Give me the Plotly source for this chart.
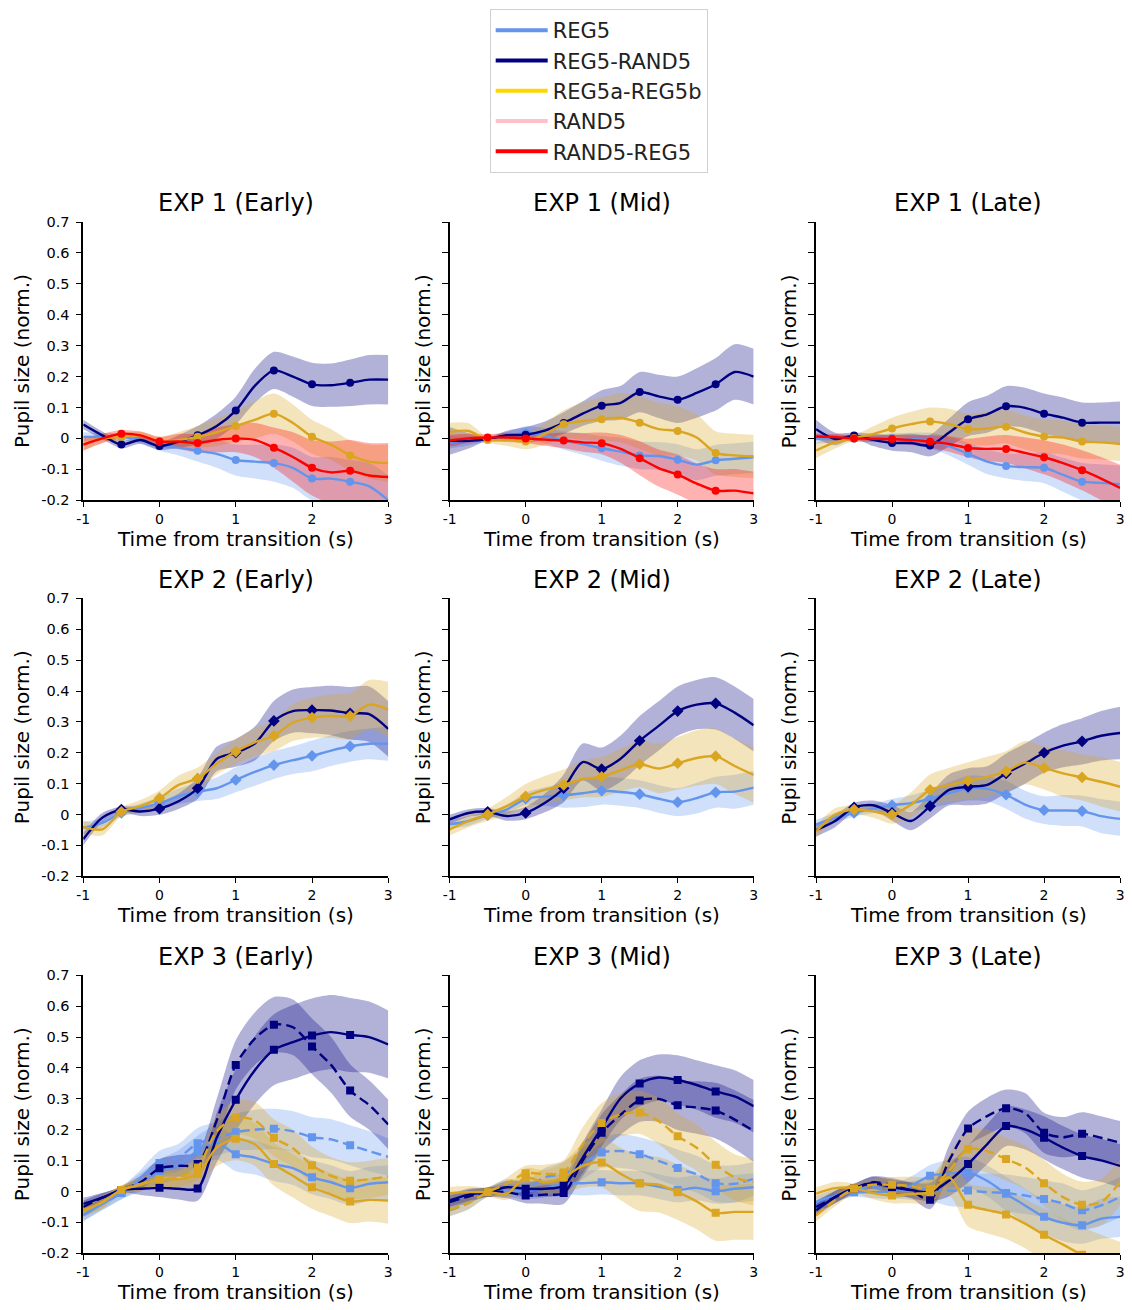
import plotly.graph_objects as go

# ---------------- data ----------------
T = [-1, -0.75, -0.5, -0.25, 0, 0.25, 0.5, 0.75, 1, 1.25, 1.5, 1.75, 2, 2.25, 2.5, 2.75, 3]
MARKER_IDX = [2, 4, 6, 8, 10, 12, 14]
Y_TICKS = [-0.2, -0.1, 0, 0.1, 0.2, 0.3, 0.4, 0.5, 0.6, 0.7]
Y_TICK_TEXT = ["-0.2", "-0.1", "0", "0.1", "0.2", "0.3", "0.4", "0.5", "0.6", "0.7"]
X_TICKS = [-1, 0, 1, 2, 3]
X_TICK_TEXT = ["-1", "0", "1", "2", "3"]
LEGEND_NAMES = ["REG5", "REG5-RAND5", "REG5a-REG5b", "RAND5", "RAND5-REG5"]
LEGEND_COLORS = ["#6495ED", "#000080", "#FFD700", "#FFC0CB", "#FF0000"]
PANEL_TITLES = ["EXP 1 (Early)", "EXP 1 (Mid)", "EXP 1 (Late)",
                "EXP 2 (Early)", "EXP 2 (Mid)", "EXP 2 (Late)",
                "EXP 3 (Early)", "EXP 3 (Mid)", "EXP 3 (Late)"]

# EXP 1 Early
E1E_REG5 = [0.005, 0.005, 0.005, -0.005, -0.025, -0.03, -0.04, -0.05, -0.07, -0.075, -0.08, -0.095, -0.13, -0.13, -0.14, -0.155, -0.2]
E1E_REG5_ERR = [0.015, 0.012, 0.012, 0.012, 0.015, 0.025, 0.035, 0.045, 0.05, 0.055, 0.06, 0.065, 0.07, 0.07, 0.07, 0.075, 0.08]
E1E_RR = [0.045, 0.01, -0.02, -0.005, -0.025, -0.01, 0.01, 0.04, 0.09, 0.17, 0.22, 0.20, 0.175, 0.172, 0.18, 0.19, 0.19]
E1E_RR_ERR = [0.015, 0.012, 0.012, 0.012, 0.012, 0.02, 0.03, 0.04, 0.045, 0.055, 0.06, 0.065, 0.07, 0.07, 0.075, 0.08, 0.08]
E1E_AB = [-0.02, 0.0, 0.005, 0.01, -0.01, -0.005, 0.005, 0.02, 0.04, 0.06, 0.08, 0.05, 0.005, -0.02, -0.055, -0.075, -0.08]
E1E_AB_ERR = [0.02, 0.015, 0.012, 0.012, 0.015, 0.025, 0.035, 0.045, 0.05, 0.06, 0.065, 0.06, 0.055, 0.05, 0.05, 0.055, 0.06]
E1E_RND = [-0.02, 0.0, 0.015, 0.01, -0.01, -0.01, -0.015, -0.005, 0.0, -0.005, -0.03, -0.06, -0.095, -0.11, -0.105, -0.12, -0.125]
E1E_RND_ERR = [0.02, 0.015, 0.012, 0.012, 0.015, 0.025, 0.03, 0.04, 0.045, 0.055, 0.065, 0.08, 0.09, 0.1, 0.1, 0.105, 0.11]

# EXP 1 Mid
E1M_REG5 = [-0.013, -0.008, -0.002, 0.006, 0.019, 0.009, -0.007, -0.018, -0.032, -0.043, -0.055, -0.057, -0.069, -0.085, -0.071, -0.066, -0.061]
E1M_REG5_ERR = [0.02, 0.015, 0.01, 0.015, 0.02, 0.025, 0.03, 0.035, 0.04, 0.045, 0.045, 0.045, 0.05, 0.05, 0.05, 0.05, 0.05]
E1M_RR = [-0.008, -0.008, -0.002, 0.01, 0.012, 0.025, 0.05, 0.08, 0.106, 0.115, 0.15, 0.136, 0.125, 0.147, 0.175, 0.215, 0.2]
E1M_RR_ERR = [0.045, 0.025, 0.005, 0.015, 0.025, 0.03, 0.035, 0.04, 0.05, 0.055, 0.065, 0.07, 0.075, 0.08, 0.085, 0.09, 0.09]
E1M_AB = [0.021, 0.024, -0.005, -0.004, -0.01, 0.014, 0.046, 0.056, 0.062, 0.067, 0.051, 0.03, 0.024, 0.003, -0.047, -0.055, -0.058]
E1M_AB_ERR = [0.03, 0.025, 0.01, 0.02, 0.025, 0.035, 0.045, 0.06, 0.07, 0.08, 0.085, 0.085, 0.08, 0.075, 0.07, 0.07, 0.07]
E1M_RND = [-0.007, 0.0, 0.003, 0.003, 0.0, -0.004, -0.007, -0.013, -0.016, -0.034, -0.064, -0.096, -0.117, -0.146, -0.169, -0.169, -0.178]
E1M_RND_ERR = [0.02, 0.015, 0.01, 0.015, 0.015, 0.02, 0.025, 0.03, 0.035, 0.045, 0.055, 0.06, 0.065, 0.065, 0.07, 0.07, 0.07]

# EXP 1 Late
E1L_REG5 = [-0.002, -0.001, 0.0, 0.001, 0.001, -0.002, -0.007, -0.025, -0.05, -0.075, -0.089, -0.093, -0.095, -0.118, -0.14, -0.144, -0.148]
E1L_REG5_ERR = [0.015, 0.012, 0.01, 0.012, 0.015, 0.02, 0.025, 0.03, 0.035, 0.04, 0.04, 0.045, 0.05, 0.055, 0.06, 0.06, 0.06]
E1L_RR = [0.03, -0.002, 0.009, -0.005, -0.015, -0.015, -0.023, 0.019, 0.062, 0.078, 0.104, 0.099, 0.08, 0.067, 0.051, 0.051, 0.051]
E1L_RR_ERR = [0.03, 0.02, 0.01, 0.02, 0.025, 0.03, 0.035, 0.045, 0.055, 0.06, 0.065, 0.065, 0.065, 0.065, 0.065, 0.065, 0.068]
E1L_AB = [-0.039, -0.013, 0.001, 0.014, 0.032, 0.046, 0.055, 0.046, 0.03, 0.032, 0.038, 0.019, 0.006, 0.003, -0.01, -0.013, -0.018]
E1L_AB_ERR = [0.025, 0.02, 0.01, 0.025, 0.035, 0.04, 0.045, 0.05, 0.05, 0.055, 0.055, 0.055, 0.055, 0.055, 0.055, 0.055, 0.055]
E1L_RND = [0.006, 0.004, 0.0, -0.001, -0.002, -0.005, -0.01, -0.018, -0.031, -0.034, -0.034, -0.047, -0.061, -0.08, -0.103, -0.13, -0.16]
E1L_RND_ERR = [0.01, 0.01, 0.01, 0.01, 0.015, 0.015, 0.02, 0.025, 0.03, 0.04, 0.045, 0.05, 0.055, 0.06, 0.065, 0.07, 0.075]

# EXP 2 Early
E2E_REG5 = [-0.043, -0.027, 0.005, 0.021, 0.037, 0.059, 0.074, 0.085, 0.112, 0.138, 0.16, 0.176, 0.19, 0.207, 0.221, 0.229, 0.229]
E2E_REG5_ERR = [0.02, 0.015, 0.012, 0.015, 0.02, 0.025, 0.03, 0.035, 0.04, 0.045, 0.045, 0.045, 0.05, 0.05, 0.05, 0.05, 0.055]
E2E_RR = [-0.08, -0.01, 0.016, 0.01, 0.019, 0.043, 0.085, 0.18, 0.20, 0.23, 0.303, 0.335, 0.338, 0.337, 0.328, 0.325, 0.277]
E2E_RR_ERR = [0.02, 0.015, 0.01, 0.015, 0.02, 0.025, 0.035, 0.04, 0.045, 0.055, 0.065, 0.07, 0.075, 0.08, 0.085, 0.09, 0.09]
E2E_AB = [-0.04, -0.048, 0.009, 0.027, 0.053, 0.096, 0.117, 0.165, 0.204, 0.234, 0.255, 0.298, 0.314, 0.319, 0.319, 0.356, 0.34]
E2E_AB_ERR = [0.02, 0.02, 0.015, 0.02, 0.025, 0.03, 0.035, 0.035, 0.04, 0.045, 0.05, 0.06, 0.065, 0.07, 0.075, 0.08, 0.09]

# EXP 2 Mid
E2M_REG5 = [-0.032, -0.021, -0.002, 0.016, 0.051, 0.058, 0.062, 0.069, 0.077, 0.073, 0.066, 0.051, 0.04, 0.053, 0.072, 0.074, 0.087]
E2M_REG5_ERR = [0.015, 0.015, 0.012, 0.015, 0.02, 0.03, 0.04, 0.045, 0.045, 0.045, 0.045, 0.045, 0.045, 0.05, 0.05, 0.055, 0.055]
E2M_RR = [-0.016, 0.005, 0.009, -0.005, 0.005, 0.037, 0.085, 0.17, 0.147, 0.181, 0.239, 0.287, 0.335, 0.356, 0.36, 0.33, 0.289]
E2M_RR_ERR = [0.015, 0.012, 0.012, 0.015, 0.02, 0.03, 0.045, 0.06, 0.07, 0.075, 0.08, 0.08, 0.08, 0.08, 0.085, 0.085, 0.085]
E2M_AB = [-0.048, -0.021, 0.0, 0.027, 0.059, 0.08, 0.096, 0.115, 0.122, 0.144, 0.163, 0.149, 0.166, 0.183, 0.189, 0.157, 0.128]
E2M_AB_ERR = [0.02, 0.02, 0.02, 0.03, 0.04, 0.045, 0.05, 0.06, 0.065, 0.07, 0.075, 0.08, 0.085, 0.09, 0.09, 0.09, 0.09]

# EXP 2 Late
E2L_REG5 = [-0.032, -0.011, 0.005, 0.019, 0.03, 0.037, 0.051, 0.069, 0.085, 0.083, 0.064, 0.032, 0.014, 0.013, 0.011, -0.005, -0.014]
E2L_REG5_ERR = [0.015, 0.015, 0.012, 0.015, 0.02, 0.025, 0.03, 0.035, 0.04, 0.04, 0.045, 0.045, 0.045, 0.05, 0.05, 0.055, 0.055]
E2L_RR = [-0.051, -0.021, 0.023, 0.03, 0.005, -0.021, 0.027, 0.08, 0.09, 0.096, 0.133, 0.165, 0.2, 0.223, 0.237, 0.255, 0.264]
E2L_RR_ERR = [0.02, 0.02, 0.015, 0.015, 0.025, 0.03, 0.04, 0.05, 0.06, 0.06, 0.065, 0.065, 0.065, 0.07, 0.075, 0.08, 0.085]
E2L_AB = [-0.055, 0.0, 0.016, 0.01, 0.0, 0.032, 0.08, 0.096, 0.109, 0.122, 0.14, 0.168, 0.151, 0.133, 0.12, 0.106, 0.09]
E2L_AB_ERR = [0.02, 0.02, 0.015, 0.02, 0.03, 0.04, 0.05, 0.055, 0.06, 0.065, 0.065, 0.07, 0.07, 0.075, 0.075, 0.08, 0.08]

# EXP 3 Early (solid = A, dashed = B)
E3E_REG5_A = [-0.077, -0.04, -0.005, 0.03, 0.064, 0.089, 0.131, 0.158, 0.121, 0.11, 0.089, 0.076, 0.046, 0.03, 0.011, 0.025, 0.03]
E3E_REG5_A_ERR = [0.02, 0.02, 0.02, 0.03, 0.04, 0.045, 0.05, 0.055, 0.055, 0.055, 0.055, 0.055, 0.055, 0.055, 0.055, 0.055, 0.055]
E3E_REG5_B = [-0.075, -0.04, -0.005, 0.04, 0.092, 0.11, 0.156, 0.172, 0.192, 0.2, 0.203, 0.195, 0.176, 0.169, 0.15, 0.131, 0.112]
E3E_REG5_B_ERR = [0.02, 0.02, 0.02, 0.03, 0.04, 0.045, 0.05, 0.055, 0.06, 0.065, 0.065, 0.065, 0.065, 0.065, 0.065, 0.065, 0.06]
E3E_RR_A = [-0.04, -0.02, 0.005, 0.009, 0.012, 0.009, 0.01, 0.174, 0.297, 0.393, 0.459, 0.484, 0.505, 0.516, 0.507, 0.5, 0.476]
E3E_RR_A_ERR = [0.02, 0.015, 0.01, 0.02, 0.03, 0.035, 0.04, 0.08, 0.1, 0.11, 0.115, 0.12, 0.12, 0.12, 0.12, 0.115, 0.11]
E3E_RR_B = [-0.05, -0.02, 0.005, 0.03, 0.075, 0.083, 0.089, 0.23, 0.41, 0.495, 0.54, 0.532, 0.47, 0.41, 0.327, 0.28, 0.217]
E3E_RR_B_ERR = [0.02, 0.015, 0.01, 0.02, 0.03, 0.035, 0.04, 0.07, 0.08, 0.085, 0.09, 0.09, 0.09, 0.09, 0.085, 0.08, 0.08]
E3E_AB_A = [-0.064, -0.034, 0.005, 0.022, 0.04, 0.04, 0.057, 0.142, 0.171, 0.153, 0.089, 0.051, 0.014, -0.01, -0.032, -0.027, -0.029]
E3E_AB_A_ERR = [0.02, 0.02, 0.015, 0.02, 0.025, 0.03, 0.04, 0.06, 0.07, 0.07, 0.07, 0.07, 0.07, 0.07, 0.07, 0.07, 0.075]
E3E_AB_B = [-0.06, -0.035, 0.005, 0.025, 0.04, 0.046, 0.078, 0.195, 0.24, 0.23, 0.174, 0.14, 0.085, 0.051, 0.035, 0.04, 0.049]
E3E_AB_B_ERR = [0.02, 0.02, 0.015, 0.02, 0.025, 0.03, 0.04, 0.05, 0.055, 0.06, 0.06, 0.06, 0.06, 0.06, 0.06, 0.06, 0.06]

# EXP 3 Mid
E3M_REG5_A = [-0.029, -0.013, -0.002, 0.003, 0.001, 0.011, 0.025, 0.027, 0.03, 0.027, 0.027, 0.016, 0.005, 0.012, 0.001, 0.009, 0.014]
E3M_REG5_A_ERR = [0.02, 0.02, 0.015, 0.02, 0.025, 0.03, 0.035, 0.04, 0.04, 0.04, 0.04, 0.04, 0.04, 0.04, 0.04, 0.045, 0.045]
E3M_REG5_B = [-0.061, -0.037, -0.002, 0.02, 0.009, 0.046, 0.057, 0.09, 0.126, 0.131, 0.121, 0.099, 0.076, 0.056, 0.027, 0.025, 0.041]
E3M_REG5_B_ERR = [0.02, 0.02, 0.015, 0.02, 0.025, 0.03, 0.04, 0.05, 0.05, 0.055, 0.055, 0.06, 0.06, 0.06, 0.06, 0.06, 0.055]
E3M_RR_A = [-0.029, -0.01, -0.002, 0.014, 0.009, 0.009, 0.019, 0.11, 0.206, 0.302, 0.35, 0.369, 0.361, 0.345, 0.324, 0.308, 0.276]
E3M_RR_A_ERR = [0.02, 0.02, 0.015, 0.02, 0.025, 0.025, 0.03, 0.05, 0.06, 0.07, 0.075, 0.075, 0.08, 0.08, 0.085, 0.085, 0.085]
E3M_RR_B = [-0.034, -0.016, -0.002, -0.002, -0.013, -0.01, -0.005, 0.1, 0.19, 0.249, 0.295, 0.3, 0.279, 0.272, 0.262, 0.233, 0.196]
E3M_RR_B_ERR = [0.02, 0.02, 0.015, 0.02, 0.025, 0.03, 0.035, 0.05, 0.06, 0.065, 0.07, 0.075, 0.08, 0.085, 0.09, 0.095, 0.1]
E3M_AB_A = [-0.005, -0.002, -0.002, -0.007, 0.046, 0.03, 0.046, 0.083, 0.094, 0.057, 0.027, 0.022, -0.002, -0.032, -0.069, -0.066, -0.066]
E3M_AB_A_ERR = [0.02, 0.02, 0.015, 0.02, 0.03, 0.04, 0.05, 0.07, 0.08, 0.085, 0.09, 0.09, 0.09, 0.09, 0.09, 0.09, 0.09]
E3M_AB_B = [-0.059, -0.037, -0.002, 0.025, 0.059, 0.057, 0.062, 0.153, 0.222, 0.249, 0.256, 0.228, 0.179, 0.142, 0.087, 0.046, 0.03]
E3M_AB_B_ERR = [0.02, 0.02, 0.015, 0.02, 0.025, 0.03, 0.04, 0.055, 0.065, 0.07, 0.07, 0.075, 0.075, 0.075, 0.075, 0.075, 0.075]

# EXP 3 Late
E3L_REG5_A = [-0.034, -0.013, -0.002, -0.002, 0.001, 0.019, 0.051, 0.058, 0.062, 0.035, -0.007, -0.045, -0.082, -0.101, -0.109, -0.088, -0.082]
E3L_REG5_A_ERR = [0.02, 0.02, 0.015, 0.02, 0.025, 0.03, 0.035, 0.045, 0.05, 0.05, 0.055, 0.055, 0.055, 0.06, 0.06, 0.065, 0.065]
E3L_REG5_B = [-0.05, -0.018, 0.003, 0.014, 0.005, 0.003, 0.009, 0.003, 0.003, -0.002, -0.005, -0.013, -0.024, -0.039, -0.061, -0.045, -0.018]
E3L_REG5_B_ERR = [0.02, 0.02, 0.015, 0.02, 0.025, 0.03, 0.04, 0.05, 0.055, 0.06, 0.06, 0.06, 0.06, 0.065, 0.065, 0.065, 0.065]
E3L_RR_A = [-0.061, -0.018, 0.011, 0.027, 0.014, 0.005, -0.002, 0.035, 0.089, 0.153, 0.212, 0.201, 0.174, 0.142, 0.115, 0.101, 0.083]
E3L_RR_A_ERR = [0.02, 0.02, 0.015, 0.02, 0.025, 0.025, 0.03, 0.05, 0.06, 0.065, 0.065, 0.065, 0.07, 0.07, 0.07, 0.07, 0.07]
E3L_RR_B = [-0.05, -0.018, 0.009, 0.03, 0.019, 0.003, -0.027, 0.1, 0.204, 0.244, 0.27, 0.254, 0.19, 0.176, 0.187, 0.174, 0.158]
E3L_RR_B_ERR = [0.02, 0.02, 0.015, 0.02, 0.025, 0.025, 0.03, 0.05, 0.055, 0.06, 0.06, 0.065, 0.065, 0.065, 0.07, 0.07, 0.07]
E3L_AB_A = [-0.007, 0.011, 0.011, -0.005, -0.013, -0.008, -0.002, 0.046, -0.043, -0.06, -0.074, -0.104, -0.14, -0.172, -0.205, -0.23, -0.253]
E3L_AB_A_ERR = [0.02, 0.02, 0.015, 0.02, 0.025, 0.03, 0.04, 0.06, 0.07, 0.075, 0.08, 0.08, 0.085, 0.085, 0.09, 0.09, 0.09]
E3L_AB_B = [-0.077, -0.028, 0.009, 0.022, 0.022, 0.018, 0.009, 0.067, 0.137, 0.131, 0.105, 0.078, 0.027, -0.018, -0.043, -0.034, 0.03]
E3L_AB_B_ERR = [0.02, 0.02, 0.015, 0.02, 0.025, 0.03, 0.04, 0.055, 0.065, 0.07, 0.07, 0.07, 0.075, 0.075, 0.075, 0.075, 0.075]

# ---------------- styling ----------------
LINE_COL = {"REG5": "#6495ED", "REG5-RAND5": "#000080", "REG5a-REG5b": "#DAA520", "RAND5-REG5": "#FF0000"}
FILL_COL = {"REG5": "rgba(100,149,237,0.3)", "REG5-RAND5": "rgba(0,0,128,0.3)",
            "REG5a-REG5b": "rgba(218,165,32,0.3)", "RAND5-REG5": "rgba(255,0,0,0.3)"}
FONT = "DejaVu Sans"

W, H = 1132, 1310
COL_PX = [(77, 385), (447, 754), (817, 1124)]
ROW_PX = [(216.7, 498.3), (597.7, 879.0), (979.3, 1260.7)]

panels = [
    ("circle", [("REG5", E1E_REG5, E1E_REG5_ERR, "solid"), ("REG5-RAND5", E1E_RR, E1E_RR_ERR, "solid"),
                ("REG5a-REG5b", E1E_AB, E1E_AB_ERR, "solid"), ("RAND5-REG5", E1E_RND, E1E_RND_ERR, "solid")]),
    ("circle", [("REG5", E1M_REG5, E1M_REG5_ERR, "solid"), ("REG5-RAND5", E1M_RR, E1M_RR_ERR, "solid"),
                ("REG5a-REG5b", E1M_AB, E1M_AB_ERR, "solid"), ("RAND5-REG5", E1M_RND, E1M_RND_ERR, "solid")]),
    ("circle", [("REG5", E1L_REG5, E1L_REG5_ERR, "solid"), ("REG5-RAND5", E1L_RR, E1L_RR_ERR, "solid"),
                ("REG5a-REG5b", E1L_AB, E1L_AB_ERR, "solid"), ("RAND5-REG5", E1L_RND, E1L_RND_ERR, "solid")]),
    ("diamond", [("REG5", E2E_REG5, E2E_REG5_ERR, "solid"), ("REG5-RAND5", E2E_RR, E2E_RR_ERR, "solid"),
                 ("REG5a-REG5b", E2E_AB, E2E_AB_ERR, "solid")]),
    ("diamond", [("REG5", E2M_REG5, E2M_REG5_ERR, "solid"), ("REG5-RAND5", E2M_RR, E2M_RR_ERR, "solid"),
                 ("REG5a-REG5b", E2M_AB, E2M_AB_ERR, "solid")]),
    ("diamond", [("REG5", E2L_REG5, E2L_REG5_ERR, "solid"), ("REG5-RAND5", E2L_RR, E2L_RR_ERR, "solid"),
                 ("REG5a-REG5b", E2L_AB, E2L_AB_ERR, "solid")]),
    ("square", [("REG5", E3E_REG5_A, E3E_REG5_A_ERR, "solid"), ("REG5", E3E_REG5_B, E3E_REG5_B_ERR, "10px,5px"),
                ("REG5-RAND5", E3E_RR_A, E3E_RR_A_ERR, "solid"), ("REG5-RAND5", E3E_RR_B, E3E_RR_B_ERR, "10px,5px"),
                ("REG5a-REG5b", E3E_AB_A, E3E_AB_A_ERR, "solid"), ("REG5a-REG5b", E3E_AB_B, E3E_AB_B_ERR, "10px,5px")]),
    ("square", [("REG5", E3M_REG5_A, E3M_REG5_A_ERR, "solid"), ("REG5", E3M_REG5_B, E3M_REG5_B_ERR, "10px,5px"),
                ("REG5-RAND5", E3M_RR_A, E3M_RR_A_ERR, "solid"), ("REG5-RAND5", E3M_RR_B, E3M_RR_B_ERR, "10px,5px"),
                ("REG5a-REG5b", E3M_AB_A, E3M_AB_A_ERR, "solid"), ("REG5a-REG5b", E3M_AB_B, E3M_AB_B_ERR, "10px,5px")]),
    ("square", [("REG5", E3L_REG5_A, E3L_REG5_A_ERR, "solid"), ("REG5", E3L_REG5_B, E3L_REG5_B_ERR, "10px,5px"),
                ("REG5-RAND5", E3L_RR_A, E3L_RR_A_ERR, "solid"), ("REG5-RAND5", E3L_RR_B, E3L_RR_B_ERR, "10px,5px"),
                ("REG5a-REG5b", E3L_AB_A, E3L_AB_A_ERR, "solid"), ("REG5a-REG5b", E3L_AB_B, E3L_AB_B_ERR, "10px,5px")]),
]

fig = go.Figure()
layout_axes = {}
annotations = []

for p, (symbol, series) in enumerate(panels):
    r, c = divmod(p, 3)
    n = p + 1
    xa = "x" if n == 1 else f"x{n}"
    ya = "y" if n == 1 else f"y{n}"
    x0, x1 = COL_PX[c]
    yt, yb = ROW_PX[r]
    pw = x1 - x0
    ph = yb - yt
    layout_axes[f"xaxis{'' if n == 1 else n}"] = dict(
        domain=[x0 / W, x1 / W], anchor=ya, range=[-1, 3], tickvals=X_TICKS, ticktext=X_TICK_TEXT,
        showline=True, linecolor="black", linewidth=1.5, ticks="outside", ticklen=5, tickwidth=1.4,
        tickcolor="black", showgrid=False, zeroline=False, tickfont=dict(family=FONT, size=14, color="black"),
        fixedrange=True)
    layout_axes[f"yaxis{'' if n == 1 else n}"] = dict(
        domain=[1 - yb / H, 1 - yt / H], anchor=xa, range=[-0.2, 0.7], tickvals=Y_TICKS,
        ticktext=Y_TICK_TEXT, showticklabels=(c == 0), ticklabelstandoff=3,
        showline=True, linecolor="black", linewidth=1.5, ticks="outside", ticklen=6, tickwidth=1.4,
        tickcolor="black", showgrid=False, zeroline=False, tickfont=dict(family=FONT, size=14.5, color="black"),
        fixedrange=True)

    # bands
    for key, mean, err, dash in series:
        lower = [m - e for m, e in zip(mean, err)]
        upper = [m + e for m, e in zip(mean, err)]
        fig.add_trace(go.Scatter(x=T, y=lower, xaxis=xa, yaxis=ya, mode="lines",
                                 line=dict(width=0, shape="spline", smoothing=0.8),
                                 showlegend=False, hoverinfo="skip"))
        fig.add_trace(go.Scatter(x=T, y=upper, xaxis=xa, yaxis=ya, mode="lines",
                                 line=dict(width=0, shape="spline", smoothing=0.8),
                                 fill="tonexty", fillcolor=FILL_COL[key],
                                 showlegend=False, hoverinfo="skip"))
    # lines + markers
    for key, mean, err, dash in series:
        fig.add_trace(go.Scatter(x=T, y=mean, xaxis=xa, yaxis=ya, mode="lines",
                                 line=dict(color=LINE_COL[key], width=2.4, dash=dash,
                                           shape="spline", smoothing=0.8),
                                 showlegend=False, name=key))
        fig.add_trace(go.Scatter(x=[T[i] for i in MARKER_IDX], y=[mean[i] for i in MARKER_IDX],
                                 xaxis=xa, yaxis=ya, mode="markers",
                                 marker=dict(symbol=symbol, color=LINE_COL[key],
                                             size=8 if symbol != "diamond" else 9),
                                 showlegend=False, name=key))

    # titles
    annotations.append(dict(text=PANEL_TITLES[p], xref=f"{xa} domain", yref=f"{ya} domain",
                            x=0.5, y=1 + 19 / ph, xanchor="center", yanchor="middle", showarrow=False,
                            font=dict(family=FONT, size=24, color="black")))
    annotations.append(dict(text="Time from transition (s)", xref=f"{xa} domain", yref=f"{ya} domain",
                            x=0.5, y=-39 / ph, xanchor="center", yanchor="middle", showarrow=False,
                            font=dict(family=FONT, size=20, color="black")))
    ylab_x = (15 - 77) / pw if c == 0 else (-27) / pw
    annotations.append(dict(text="Pupil size (norm.)", xref=f"{xa} domain", yref=f"{ya} domain",
                            x=ylab_x, y=0.5, xanchor="center", yanchor="middle", showarrow=False,
                            textangle=-90, font=dict(family=FONT, size=20, color="black")))

# legend entries
for name, col in zip(LEGEND_NAMES, LEGEND_COLORS):
    fig.add_trace(go.Scatter(x=[None], y=[None], mode="lines", name=name,
                             line=dict(color=col, width=4), showlegend=True))

fig.update_layout(
    width=W, height=H, autosize=False,
    margin=dict(l=0, r=0, t=0, b=0),
    paper_bgcolor="white", plot_bgcolor="white",
    font=dict(family=FONT, color="black"),
    showlegend=True,
    legend=dict(x=597.5 / W, y=1 - 1 / H, xanchor="center", yanchor="top",
                bgcolor="white", bordercolor="#d0d0d0", borderwidth=1,
                font=dict(family=FONT, size=21, color="#222222"),
                traceorder="normal", tracegroupgap=0, itemwidth=52),
    annotations=annotations,
    **layout_axes,
)

fig.write_html("out.html")
